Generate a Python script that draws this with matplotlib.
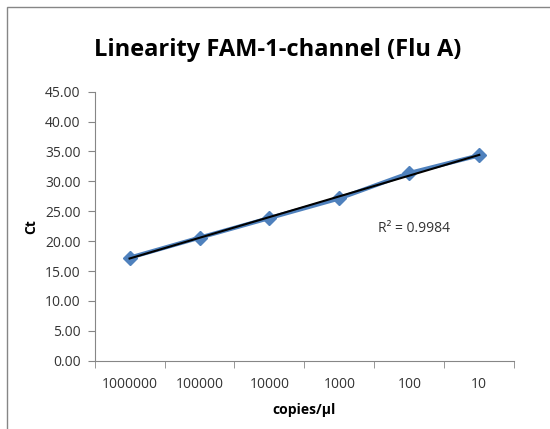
import numpy as np
import matplotlib.pyplot as plt
from matplotlib.patches import Rectangle

copies = ["1000000", "100000", "10000", "1000", "100", "10"]
ct = [17.23, 20.58, 23.87, 27.15, 31.40, 34.36]
r2_text = "R² = 0.9984"

plt.rcParams['font.family'] = ['Open Sans', 'DejaVu Sans']

fig = plt.figure(figsize=(5.5, 4.29), dpi=100)
ax = fig.add_axes([0.172, 0.1592, 0.763, 0.627])

x = np.arange(1, len(copies) + 1)
ax.plot(x, ct, color="#4F81BD", lw=3, marker="D", ms=7, zorder=2)

# linear trendline
k, b = np.polyfit(x, ct, 1)
xx = np.array([x[0], x[-1]])
ax.plot(xx, k * xx + b, color="black", lw=1.5, zorder=3)

ax.set_xlim(0.5, len(copies) + 0.5)
ax.set_ylim(0, 45)
ax.set_yticks(np.arange(0, 46, 5))
ax.set_yticklabels(["%.2f" % v for v in np.arange(0, 46, 5)])
ax.set_xticks(x)
ax.set_xticklabels(copies)
ax.set_xticks(np.arange(0.5, len(copies) + 1, 1), minor=True)
ax.tick_params(axis="x", which="major", length=0, pad=12)
ax.tick_params(axis="x", which="minor", length=5, color="#868686", direction="out")
ax.tick_params(axis="y", length=5, color="#868686", direction="out", pad=5)
ax.tick_params(labelsize=10, labelcolor="#333333")

for s in ["top", "right"]:
    ax.spines[s].set_visible(False)
for s in ["left", "bottom"]:
    ax.spines[s].set_color("#868686")

ax.set_ylabel("Ct", fontsize=10, fontweight="bold", labelpad=5)
ax.set_xlabel("copies/µl", fontsize=10, fontweight="bold", labelpad=8)
ax.text(4.55, 21.6, r2_text, fontsize=10, color="#333333")

fig.text(0.504, 0.883, "Linearity FAM-1-channel (Flu A)", ha="center", va="center",
         fontsize=17, fontweight="bold")

# outer chart border
fig.patches.append(Rectangle((7 / 550, -0.1), 1.2, 1 - 7 / 429 + 0.1,
                             transform=fig.transFigure, fill=False,
                             edgecolor="#868686", lw=1))

fig.savefig("out.png", dpi=100)
